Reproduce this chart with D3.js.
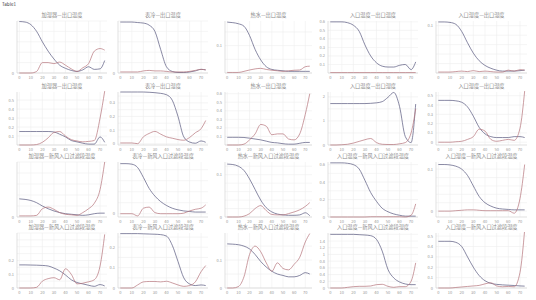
<!DOCTYPE html>
<html>
<head>
<meta charset="UTF-8">
<style>
  body { margin: 0; background: #fff; }
  svg { display: block; font-family: "Noto Sans CJK SC", "Noto Sans", sans-serif; }
</style>
</head>
<body>
<svg></svg>
<script src="https://d3js.org/d3.v7.min.js"></script>
<script>
const w = 536, h = 300;

// x positions shared by every panel
const xs = [0, 5, 10, 15, 20, 25, 30, 35, 40, 45, 50, 55, 60, 65, 70, 74];
const xTicks = [0, 10, 20, 30, 40, 50, 60, 70];

const titles = [
  "加湿器—出口温度", "表冷—出口温度", "热水—出口温度", "入口温度—出口温度", "入口湿度—出口湿度",
  "加湿器—出口湿度", "表冷—出口湿度", "热水—出口湿度", "入口温度—出口湿度", "入口湿度—出口湿度",
  "加湿器—新风入口过滤段温度", "表冷—新风入口过滤段温度", "热水—新风入口过滤段温度", "入口温度—新风入口过滤段温度", "入口湿度—新风入口过滤段温度",
  "加湿器—新风入口过滤段湿度", "表冷—新风入口过滤段湿度", "热水—新风入口过滤段湿度", "入口温度—新风入口过滤段湿度", "入口湿度—新风入口过滤段湿度"
];

const yDomains = [
  [0, 1], [0, 1], [0, 0.19], [0, 0.61], [0, 0.11],
  [0, 0.59], [-0.01, 0.38], [0, 0.62], [0, 2.2], [-0.03, 0.54],
  [0, 1], [-0.06, 0.94], [0, 0.13], [0, 0.63], [-0.014, 0.117],
  [0, 0.4], [0, 0.27], [0, 0.197], [0, 1.64], [0, 0.53]
];

const yLabels = [
  [0], [0], [0.1], [0.1, 0.2, 0.3, 0.4, 0.5, 0.6], [0.1],
  [0.1, 0.2, 0.3, 0.4, 0.5], [0, 0.1, 0.2, 0.3], [0.1, 0.2, 0.3, 0.4, 0.5, 0.6], [0, 1, 2], [0, 0.1, 0.2, 0.3, 0.4, 0.5],
  [0], [0], [0, 0.1], [0, 0.2, 0.4, 0.6], [0, 0.1],
  [0, 0.1, 0.2], [0, 0.1, 0.2], [0, 0.1], [0, 0.2, 0.4, 0.6, 0.8, 1, 1.2, 1.4], [0, 0.1, 0.2, 0.3, 0.4, 0.5]
];

const blue = [
  [0.99, 0.98, 0.93, 0.8, 0.6, 0.42, 0.27, 0.15, 0.09, 0.05, 0.03, 0.06, 0.12, 0.07, 0.08, 0.24],
  [0.98, 0.98, 0.98, 0.97, 0.96, 0.92, 0.8, 0.45, 0.12, 0.03, 0.01, 0.01, 0.02, 0.04, 0.07, 0.06],
  [0.186, 0.184, 0.18, 0.171, 0.137, 0.086, 0.048, 0.023, 0.013, 0.01, 0.008, 0.006, 0.006, 0.006, 0.006, 0.006],
  [0.6, 0.6, 0.6, 0.59, 0.56, 0.49, 0.33, 0.2, 0.12, 0.08, 0.07, 0.07, 0.09, 0.1, 0.04, 0.13],
  [0.108, 0.108, 0.107, 0.103, 0.088, 0.064, 0.042, 0.026, 0.016, 0.01, 0.006, 0.004, 0.004, 0.004, 0.005, 0.006],
  [0.15, 0.15, 0.15, 0.15, 0.15, 0.15, 0.145, 0.12, 0.09, 0.05, 0.035, 0.02, 0.01, 0.01, 0.09, 0.03],
  [0.38, 0.38, 0.38, 0.38, 0.38, 0.378, 0.375, 0.37, 0.36, 0.32, 0.2, 0.05, 0.012, 0.003, 0.02, 0.01],
  [0.09, 0.09, 0.09, 0.088, 0.08, 0.07, 0.06, 0.045, 0.03, 0.025, 0.015, 0.01, 0.01, 0.02, 0.03, 0.03],
  [1.72, 1.72, 1.72, 1.72, 1.72, 1.72, 1.72, 1.73, 1.75, 1.8, 1.98, 2.18, 1.6, 0.35, 0.1, 1.7],
  [0.45, 0.45, 0.45, 0.445, 0.43, 0.38, 0.28, 0.16, 0.09, 0.06, 0.05, 0.05, 0.05, 0.06, 0.06, 0.05],
  [0.33, 0.32, 0.3, 0.26, 0.2, 0.15, 0.11, 0.08, 0.06, 0.05, 0.04, 0.03, 0.04, 0.06, 0.07, 0.07],
  [0.91, 0.91, 0.9, 0.84, 0.66, 0.46, 0.32, 0.22, 0.15, 0.1, 0.07, 0.05, 0.04, 0.03, 0.03, 0.03],
  [0.125, 0.124, 0.12, 0.11, 0.09, 0.065, 0.04, 0.022, 0.012, 0.007, 0.005, 0.004, 0.004, 0.005, 0.01, 0.003],
  [0.62, 0.62, 0.62, 0.615, 0.6, 0.55, 0.42, 0.28, 0.18, 0.1, 0.06, 0.035, 0.02, 0.01, 0.01, 0.01],
  [0.111, 0.111, 0.11, 0.107, 0.1, 0.085, 0.06, 0.035, 0.02, 0.012, 0.007, 0.005, 0.004, 0.003, 0.003, 0.003],
  [0.168, 0.168, 0.167, 0.166, 0.164, 0.16, 0.145, 0.125, 0.095, 0.06, 0.04, 0.03, 0.02, 0.012, 0.025, 0.015],
  [0.267, 0.267, 0.267, 0.267, 0.266, 0.265, 0.264, 0.262, 0.255, 0.21, 0.13, 0.05, 0.02, 0.012, 0.015, 0.012],
  [0.158, 0.157, 0.155, 0.15, 0.14, 0.12, 0.095, 0.075, 0.06, 0.05, 0.045, 0.04, 0.04, 0.045, 0.055, 0.05],
  [1.6, 1.6, 1.6, 1.6, 1.6, 1.59, 1.58, 1.56, 1.45, 1.1, 0.55, 0.3, 0.18, 0.12, 0.1, 0.1],
  [0.45, 0.45, 0.45, 0.44, 0.4, 0.3, 0.2, 0.12, 0.07, 0.045, 0.035, 0.03, 0.027, 0.024, 0.02, 0.018]
];

const red = [
  [0, 0, 0, 0.03, 0.2, 0.2, 0.18, 0.21, 0.15, 0.08, 0.03, 0.1, 0.18, 0.42, 0.47, 0.44],
  [0.02, 0.02, 0.02, 0.02, 0.04, 0.05, 0.04, 0.04, 0.03, 0.02, 0.02, 0.02, 0.03, 0.05, 0.07, 0.06],
  [0.002, 0.002, 0.002, 0.006, 0.011, 0.015, 0.017, 0.013, 0.01, 0.008, 0.006, 0.008, 0.01, 0.011, 0.023, 0.025],
  [0.005, 0.005, 0.005, 0.005, 0.005, 0.005, 0.005, 0.005, 0.005, 0.005, 0.005, 0.005, 0.005, 0.005, 0.005, 0.005],
  [0.002, 0.002, 0.002, 0.003, 0.004, 0.003, 0.005, 0.003, 0.004, 0.003, 0.002, 0.002, 0.006, 0.004, 0.007, 0.006],
  [0, 0, 0, 0.005, 0.03, 0.08, 0.14, 0.15, 0.1, 0.06, 0.045, 0.035, 0.04, 0.05, 0.3, 0.6],
  [0.005, 0.005, 0.005, 0, 0.05, 0.075, 0.09, 0.07, 0.05, 0.04, 0.03, 0.025, 0.045, 0.08, 0.11, 0.17],
  [0, 0, 0, 0.01, 0.06, 0.13, 0.24, 0.22, 0.12, 0.13, 0.13, 0.07, 0.06, 0.13, 0.36, 0.6],
  [0, 0, 0.01, 0.03, 0.08, 0.15, 0.22, 0.27, 0.1, 0.03, 0.02, 0.02, 0.05, 0.1, 0.5, 1.5],
  [0, 0, 0, 0.005, 0.01, 0.03, 0.06, 0.14, 0.12, 0.03, 0.01, 0.02, 0.03, 0.02, 0.15, 0.55],
  [0.02, 0.02, 0.02, 0.03, 0.15, 0.18, 0.14, 0.08, 0.05, 0.04, 0.03, 0.08, 0.15, 0.25, 0.5, 1.0],
  [0, 0, 0, -0.04, 0.1, 0.12, 0.02, 0, 0, 0, 0, 0.01, 0.05, 0.08, 0.1, 0.16],
  [0, 0, 0, 0.002, 0.008, 0.02, 0.027, 0.015, 0.006, 0.005, 0.005, 0.008, 0.012, 0.017, 0.025, 0.034],
  [0, 0, 0, 0, 0, 0, 0, 0.003, 0.003, 0.003, 0.003, 0.003, 0.003, 0, 0.02, 0.15],
  [0, 0, 0, 0.001, 0.002, 0.003, 0.003, 0.002, 0.001, 0.001, 0.001, 0.001, 0.001, -0.005, 0.03, 0.111],
  [0, 0, 0, 0.005, 0.05, 0.068, 0.075, 0.06, 0.14, 0.1, 0.03, 0.035, 0.045, 0.06, 0.16, 0.39],
  [0, 0, 0, 0.015, 0.03, 0.032, 0.032, 0.03, 0.033, 0.025, 0.015, 0.008, 0.012, 0.03, 0.08, 0.11],
  [0, 0, 0.005, 0.04, 0.12, 0.15, 0.13, 0.09, 0.06, 0.09, 0.07, 0.065, 0.085, 0.11, 0.165, 0.195],
  [0, 0, 0, 0.02, 0.04, 0.05, 0.05, 0.06, 0.1, 0.11, 0.05, 0.02, 0.04, 0.04, 0.2, 0.75],
  [0, 0, 0, 0.005, 0.01, 0.015, 0.02, 0.025, 0.04, 0.05, 0.02, 0.012, 0.015, 0.012, 0.15, 0.56]
];

// layout of the 5 x 4 grid
const colLeft = [17, 118, 225, 328, 436];
const colRight = [107, 208, 312, 418, 527];
const rowTop = [21, 92, 162, 233];
const rowBottom = [73, 145, 217, 288];

const blueColor = "#56567c";
const redColor = "#b5727a";

const svg = d3.select("svg")
  .attr("width", w)
  .attr("height", h);

svg.append("rect").attr("width", w).attr("height", h).attr("fill", "#fff");

svg.append("text")
  .attr("x", 2).attr("y", 5.5)
  .attr("font-size", 4.5)
  .attr("fill", "#444")
  .text("Table1");

titles.forEach((title, i) => {
  const r = Math.floor(i / 5), c = i % 5;
  const x = d3.scaleLinear().domain([-2, 76]).range([colLeft[c], colRight[c]]);
  const y = d3.scaleLinear().domain(yDomains[i]).range([rowBottom[r], rowTop[r]]);
  const g = svg.append("g");

  // vertical grid
  g.selectAll(".vg").data(xTicks).join("line")
    .attr("x1", d => x(d)).attr("x2", d => x(d))
    .attr("y1", rowTop[r]).attr("y2", rowBottom[r])
    .attr("stroke", "#efefef").attr("stroke-width", 0.6);

  // horizontal grid
  const hgrid = y.ticks(6);
  g.selectAll(".hg").data(hgrid).join("line")
    .attr("x1", colLeft[c]).attr("x2", colRight[c])
    .attr("y1", d => y(d)).attr("y2", d => y(d))
    .attr("stroke", "#efefef").attr("stroke-width", 0.6);

  // axes
  g.append("line")
    .attr("x1", colLeft[c]).attr("x2", colLeft[c])
    .attr("y1", rowTop[r]).attr("y2", rowBottom[r])
    .attr("stroke", "#d4d4d4").attr("stroke-width", 0.7);
  g.append("line")
    .attr("x1", colLeft[c]).attr("x2", colRight[c])
    .attr("y1", rowBottom[r]).attr("y2", rowBottom[r])
    .attr("stroke", "#d4d4d4").attr("stroke-width", 0.7);

  g.selectAll(".xl").data(xTicks).join("text")
    .attr("x", d => x(d)).attr("y", rowBottom[r] + 6)
    .attr("text-anchor", "middle")
    .attr("font-size", 4)
    .attr("fill", "#999")
    .text(d => d);

  g.selectAll(".yl").data(yLabels[i]).join("text")
    .attr("x", colLeft[c] - 3).attr("y", d => y(d) + 1.5)
    .attr("text-anchor", "end")
    .attr("font-size", 4)
    .attr("fill", "#999")
    .text(d => d);

  g.append("text")
    .attr("x", (colLeft[c] + colRight[c]) / 2)
    .attr("y", rowTop[r] - 4)
    .attr("text-anchor", "middle")
    .attr("font-size", 5.2)
    .attr("fill", "#888")
    .text(title);

  const clipId = "clip" + i;
  g.append("clipPath").attr("id", clipId).append("rect")
    .attr("x", colLeft[c]).attr("y", rowTop[r] - 1)
    .attr("width", colRight[c] - colLeft[c]).attr("height", rowBottom[r] - rowTop[r] + 3);

  const line = d3.line()
    .x((d, k) => x(xs[k]))
    .y(d => y(d))
    .curve(d3.curveMonotoneX);

  g.append("path")
    .attr("d", line(blue[i]))
    .attr("fill", "none")
    .attr("stroke", blueColor)
    .attr("stroke-width", 0.7)
    .attr("clip-path", `url(#${clipId})`);

  g.append("path")
    .attr("d", line(red[i]))
    .attr("fill", "none")
    .attr("stroke", redColor)
    .attr("stroke-width", 0.7)
    .attr("clip-path", `url(#${clipId})`);
});
</script>
</body>
</html>
